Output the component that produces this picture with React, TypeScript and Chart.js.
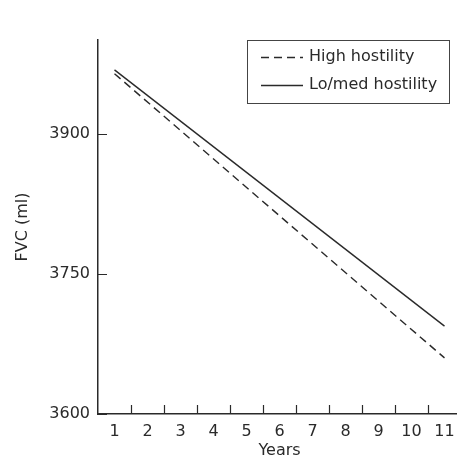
import React, { useEffect, useRef } from "react";
import { Chart, registerables } from "chart.js";

Chart.register(...registerables);

const years = ["1", "2", "3", "4", "5", "6", "7", "8", "9", "10", "11"];
const highHostility = [3964, null, null, null, null, null, null, null, null, null, 3660];
const loMedHostility = [3968, null, null, null, null, null, null, null, null, null, 3694];
const yTicks = [3600, 3750, 3900];
const yMin = 3600;
const yMax = 4000;

const FONT = "'DejaVu Sans', Verdana, sans-serif";
const INK = "#2a2a2a";

const inwardTicks = {
  id: "inwardTicks",
  afterDatasetsDraw(chart: any) {
    const { ctx, chartArea, scales } = chart;
    const x = scales.x;
    const y = scales.y;
    ctx.save();
    ctx.strokeStyle = INK;
    ctx.lineWidth = 1.2;
    ctx.beginPath();
    for (const v of yTicks) {
      const py = Math.round(y.getPixelForValue(v)) + 0.5;
      ctx.moveTo(chartArea.left, py);
      ctx.lineTo(chartArea.left + 9, py);
    }
    for (let i = 0; i < years.length - 1; i++) {
      const px = Math.round((x.getPixelForValue(i) + x.getPixelForValue(i + 1)) / 2) + 0.5;
      ctx.moveTo(px, chartArea.bottom);
      ctx.lineTo(px, chartArea.bottom - 9);
    }
    ctx.stroke();
    ctx.restore();
  },
};

const boxLegend = {
  id: "boxLegend",
  afterDraw(chart: any) {
    const { ctx, chartArea } = chart;
    const left = chartArea.left + 149;
    const top = chartArea.top;
    const w = 202;
    const h = 63;
    ctx.save();
    ctx.strokeStyle = "#444";
    ctx.lineWidth = 1;
    ctx.strokeRect(left + 0.5, top + 0.5, w, h);
    const rows = [top + 17, top + 45];
    chart.data.datasets.forEach((ds: any, i: number) => {
      const ry = rows[i] + 0.5;
      ctx.strokeStyle = ds.borderColor;
      ctx.lineWidth = 1.3;
      ctx.setLineDash(ds.borderDash || []);
      ctx.beginPath();
      ctx.moveTo(left + 14, ry);
      ctx.lineTo(left + 56, ry);
      ctx.stroke();
      ctx.setLineDash([]);
      ctx.fillStyle = INK;
      ctx.font = `16px ${FONT}`;
      ctx.textAlign = "left";
      ctx.textBaseline = "middle";
      ctx.fillText(ds.label, left + 62, rows[i]);
    });
    ctx.restore();
  },
};

export default function App() {
  const ref = useRef<HTMLCanvasElement>(null);
  useEffect(() => {
    if (!ref.current) return;
    const chart = new Chart(ref.current, {
      type: "line",
      data: {
        labels: years,
        datasets: [
          {
            label: "High hostility",
            data: highHostility,
            borderColor: INK,
            borderWidth: 1.4,
            borderDash: [8, 5],
            pointRadius: 0,
            spanGaps: true,
            fill: false,
            tension: 0,
          },
          {
            label: "Lo/med hostility",
            data: loMedHostility,
            borderColor: INK,
            borderWidth: 1.4,
            pointRadius: 0,
            spanGaps: true,
            fill: false,
            tension: 0,
          },
        ],
      },
      options: {
        animation: false,
        responsive: false,
        maintainAspectRatio: false,
        layout: { padding: { left: 0, top: 40, right: 9, bottom: 0 } },
        plugins: { legend: { display: false }, tooltip: { enabled: false } },
        scales: {
          x: {
            type: "category",
            offset: true,
            grid: { display: false, drawTicks: false, offset: true },
            border: { display: true, color: INK, width: 1.5 },
            ticks: { color: INK, font: { family: FONT, size: 16 }, padding: 8, maxRotation: 0, autoSkip: false },
            title: {
              display: true,
              text: "Years",
              color: INK,
              font: { family: FONT, size: 16, lineHeight: 1 },
              padding: { top: 0, bottom: 0 },
            },
            afterFit(scale: any) {
              scale.height = 45;
            },
          },
          y: {
            min: yMin,
            max: yMax,
            grid: { display: false, drawTicks: false },
            border: { display: true, color: INK, width: 1.5 },
            ticks: {
              color: INK,
              font: { family: FONT, size: 16 },
              padding: 8,
              callback: (v: any) => String(v),
            },
            afterBuildTicks(scale: any) {
              scale.ticks = yTicks.map((v) => ({ value: v }));
            },
            title: {
              display: true,
              text: "FVC (ml)",
              color: INK,
              font: { family: FONT, size: 16, lineHeight: 1 },
              padding: { top: 15, bottom: 0 },
            },
            afterFit(scale: any) {
              scale.width = 98;
            },
          },
        },
      },
      plugins: [inwardTicks, boxLegend],
    });
    return () => chart.destroy();
  }, []);
  return (
    <div style={{ position: "fixed", left: 0, top: 0, width: 457, height: 459, overflow: "hidden", background: "#fff" }}>
      <canvas ref={ref} width={470} height={459} style={{ display: "block" }} />
    </div>
  );
}
